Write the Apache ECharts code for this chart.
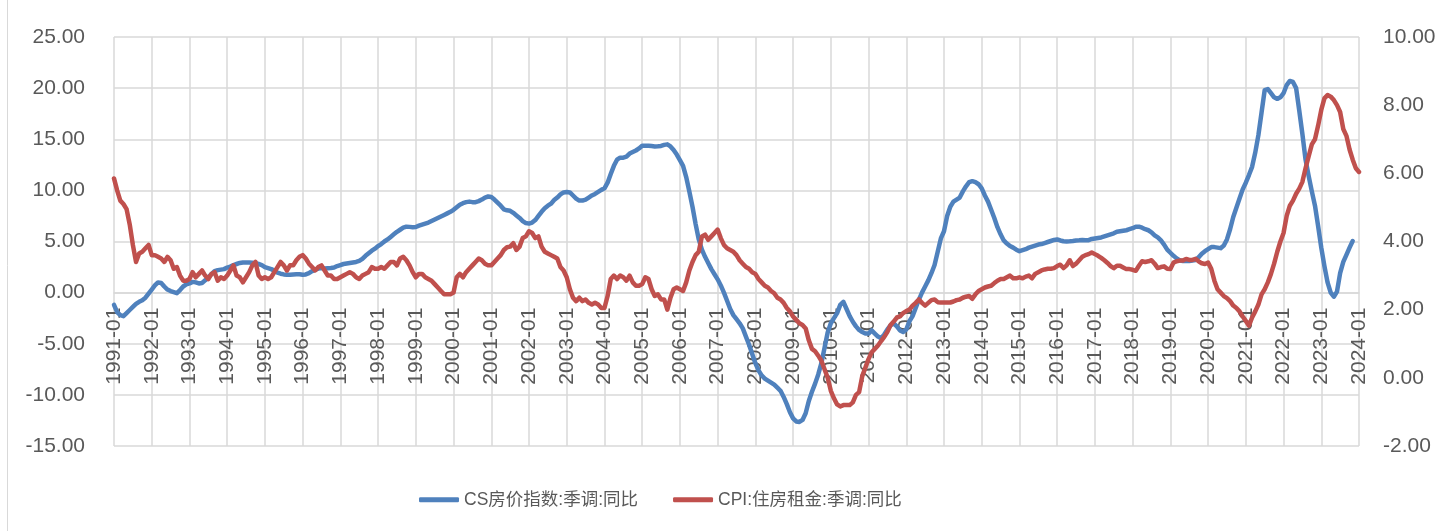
<!DOCTYPE html>
<html><head><meta charset="utf-8">
<script src="https://cdn.jsdelivr.net/npm/echarts@6/dist/echarts.min.js"></script>
<style>html,body{margin:0;padding:0;background:#fff}#c{width:1449px;height:531px}</style>
</head><body><div id="c"></div>
<script>
// Monthly categories 1991-01 .. 2024-01
const startYear = 1991, endYear = 2024;
const months = [];
for (let y = startYear; y <= endYear; y++) {
  for (let m = 1; m <= 12; m++) {
    if (y === endYear && m > 1) break;
    months.push(y + '-' + String(m).padStart(2, '0'));
  }
}

const seriesNames = ['CS房价指数:季调:同比', 'CPI:住房租金:季调:同比'];

// CS house price index YoY (%), left axis
const csYoY = [
  -1.2, -1.9, -2.2, -2.3, -2.0, -1.7, -1.4, -1.1, -0.9, -0.75, -0.5, -0.1,
  0.3, 0.7, 1.0, 0.95, 0.6, 0.3, 0.15, 0.05, -0.05, 0.25, 0.6, 0.8,
  0.9, 1.05, 1.0, 0.9, 0.95, 1.2, 1.5, 1.8, 2.1, 2.2, 2.25, 2.3,
  2.45, 2.55, 2.7, 2.8, 2.9, 2.95, 2.95, 2.95, 2.93, 2.88, 2.8, 2.7,
  2.5, 2.4, 2.3, 2.15, 1.95, 1.85, 1.78, 1.75, 1.75, 1.78, 1.8, 1.8,
  1.75, 1.78, 1.9, 2.1, 2.25, 2.35, 2.4, 2.35, 2.38, 2.4, 2.45, 2.6,
  2.7, 2.8, 2.85, 2.9, 2.95, 3.0, 3.1, 3.3, 3.6, 3.85, 4.1, 4.3,
  4.55, 4.75, 5.0, 5.2, 5.45, 5.7, 5.95, 6.15, 6.35, 6.45, 6.43, 6.4,
  6.42, 6.55, 6.65, 6.75, 6.85, 7.0, 7.15, 7.3, 7.45, 7.6, 7.75, 7.9,
  8.1, 8.35, 8.6, 8.75, 8.85, 8.9, 8.85, 8.85, 8.95, 9.1, 9.3, 9.4,
  9.35, 9.1, 8.8, 8.5, 8.15, 8.05, 8.0, 7.8, 7.55, 7.3, 7.0, 6.8,
  6.75, 6.85, 7.1, 7.5, 7.9, 8.25, 8.5, 8.7, 9.05, 9.3, 9.6, 9.8,
  9.85, 9.8, 9.5, 9.2, 9.0, 9.0, 9.1, 9.3, 9.5, 9.65, 9.85, 10.05,
  10.2, 10.75, 11.6, 12.4, 13.0, 13.2, 13.2, 13.3, 13.6, 13.75, 13.9, 14.1,
  14.36, 14.36, 14.36, 14.33, 14.3, 14.32, 14.35, 14.45, 14.5, 14.3, 13.95, 13.5,
  12.95, 12.4, 11.3, 9.9, 8.4, 6.7, 5.2, 4.2, 3.5, 2.9, 2.3, 1.8,
  1.3, 0.7, 0.0, -0.8, -1.6, -2.2, -2.6, -3.0, -3.5, -4.3, -5.1, -6.0,
  -6.9, -7.6, -8.1, -8.4, -8.6, -8.8, -9.0, -9.3, -9.6, -10.2, -10.9, -11.7,
  -12.3, -12.6, -12.65, -12.45, -11.8, -10.6, -9.7, -8.9, -8.0, -6.9, -5.4, -3.9,
  -3.0, -2.5, -2.0, -1.2, -0.9, -1.6, -2.3, -2.85, -3.3, -3.65, -3.85, -4.0,
  -4.0, -3.7, -4.0, -4.3, -4.45, -4.1, -3.6, -3.2, -3.0, -3.3, -3.7, -3.85,
  -3.6, -2.8, -2.3, -1.5, -0.7, 0.0, 0.6, 1.2, 1.9, 2.7, 4.0, 5.3,
  6.0, 7.5, 8.4, 8.9, 9.1, 9.3, 9.9, 10.4, 10.8, 10.9, 10.8, 10.6,
  10.2, 9.5, 8.9, 8.1, 7.3, 6.4, 5.7, 5.1, 4.8, 4.55, 4.4, 4.2,
  4.05, 4.15, 4.25, 4.4, 4.5, 4.6, 4.7, 4.75, 4.85, 4.95, 5.05, 5.15,
  5.2, 5.1, 5.02, 5.0, 5.02, 5.05, 5.1, 5.12, 5.15, 5.12, 5.13, 5.25,
  5.3, 5.35, 5.4, 5.5, 5.6, 5.7, 5.8, 5.95, 6.0, 6.05, 6.1, 6.2,
  6.3, 6.45, 6.45, 6.35, 6.2, 6.1, 5.9, 5.6, 5.4, 5.1, 4.7, 4.2,
  3.9, 3.6, 3.35, 3.15, 3.1, 3.1, 3.1, 3.15, 3.2, 3.45, 3.8, 4.05,
  4.25, 4.45, 4.45, 4.4, 4.35, 4.6, 5.2, 6.2, 7.4, 8.3, 9.2, 10.1,
  10.75, 11.5, 12.3, 13.7, 15.4, 17.6, 19.8, 19.9, 19.5, 19.1, 18.95, 19.1,
  19.5, 20.3, 20.7, 20.6, 20.0, 17.8, 15.5, 13.0, 11.4, 9.9, 8.5, 6.5,
  4.4, 2.6, 1.0, 0.0, -0.4, 0.1, 1.9, 3.0, 3.7, 4.4, 5.05, null,
  null
];

// CPI rent of primary residence YoY (%), right axis
const rentYoY = [
  5.85, 5.5, 5.2, 5.1, 4.95, 4.5, 3.9, 3.4, 3.65, 3.7, 3.8, 3.9,
  3.6, 3.6, 3.55, 3.5, 3.4, 3.55, 3.45, 3.2, 3.25, 3.0, 2.85, 2.85,
  2.9, 3.1, 2.95, 3.05, 3.15, 3.0, 2.9, 3.05, 3.1, 2.85, 2.95, 2.9,
  3.0, 3.15, 3.3, 3.0, 2.95, 2.8, 2.95, 3.1, 3.3, 3.4, 3.0, 2.9,
  2.95, 2.9, 2.95, 3.1, 3.25, 3.4, 3.3, 3.15, 3.3, 3.3, 3.45, 3.55,
  3.6, 3.5, 3.35, 3.25, 3.15, 3.25, 3.3, 3.15, 3.0, 3.0, 2.9, 2.9,
  2.95, 3.0, 3.05, 3.1, 3.05, 2.95, 2.9, 3.0, 3.05, 3.1, 3.25, 3.2,
  3.2, 3.25, 3.2, 3.3, 3.4, 3.4, 3.3, 3.5, 3.55, 3.45, 3.3, 3.1,
  2.95, 3.05, 3.05, 2.95, 2.9, 2.85, 2.75, 2.65, 2.55, 2.45, 2.45, 2.45,
  2.5, 2.95, 3.05, 2.95, 3.1, 3.2, 3.3, 3.4, 3.5, 3.45, 3.35, 3.3,
  3.3, 3.4, 3.5, 3.6, 3.75, 3.83, 3.85, 3.95, 3.75, 3.85, 4.1, 4.15,
  4.3, 4.25, 4.1, 4.15, 3.85, 3.7, 3.65, 3.6, 3.55, 3.5, 3.25, 3.15,
  2.95, 2.6, 2.35, 2.25, 2.35, 2.25, 2.3, 2.2, 2.15, 2.2, 2.15, 2.05,
  2.05, 2.4, 2.9, 3.0, 2.9, 3.0, 2.95, 2.85, 3.0, 2.8, 2.7, 2.7,
  2.75, 2.95, 2.9, 2.6, 2.4, 2.45, 2.3, 2.3, 2.0, 2.35, 2.6, 2.65,
  2.6, 2.55, 2.8, 3.15, 3.4, 3.6, 3.7, 4.15, 4.2, 4.05, 4.15, 4.25,
  4.35, 4.1, 3.9, 3.8, 3.75, 3.7, 3.6, 3.45, 3.35, 3.25, 3.2, 3.1,
  3.05, 2.9, 2.8, 2.7, 2.65, 2.55, 2.48, 2.35, 2.3, 2.2, 2.05, 1.95,
  1.8, 1.7, 1.6, 1.55, 1.45, 1.1, 0.85, 0.78, 0.65, 0.5, 0.25, 0.0,
  -0.38, -0.6, -0.78, -0.84, -0.8, -0.8, -0.8, -0.72, -0.5, -0.42, 0.05, 0.3,
  0.55, 0.75, 0.85, 0.95, 1.08, 1.2, 1.35, 1.55, 1.65, 1.77, 1.8, 1.9,
  1.96, 2.0, 2.12, 2.2, 2.3, 2.2, 2.12, 2.2, 2.28, 2.3, 2.22, 2.21,
  2.21, 2.21, 2.21, 2.24, 2.28, 2.3, 2.35, 2.38, 2.4, 2.32, 2.45, 2.55,
  2.6, 2.65, 2.68, 2.7, 2.78, 2.85, 2.9, 2.9, 2.95, 3.0, 2.92, 2.92,
  2.95, 2.92, 2.97, 3.0, 2.92, 3.05, 3.1, 3.15, 3.18, 3.2, 3.2, 3.22,
  3.28, 3.32, 3.22, 3.3, 3.45, 3.28, 3.35, 3.45, 3.55, 3.6, 3.63, 3.68,
  3.63, 3.58, 3.52, 3.45, 3.37, 3.28, 3.22, 3.29, 3.29, 3.24, 3.19, 3.19,
  3.17, 3.14, 3.29, 3.42, 3.4, 3.42, 3.45, 3.35, 3.22, 3.25, 3.27, 3.2,
  3.19, 3.38, 3.42, 3.44, 3.44, 3.49, 3.46, 3.46, 3.49, 3.42, 3.36, 3.34,
  3.38, 3.2, 2.85, 2.6, 2.5, 2.4, 2.34, 2.25, 2.12, 2.05, 1.95, 1.8,
  1.67, 1.53, 1.77, 1.95, 2.15, 2.45, 2.6, 2.8, 3.05, 3.35, 3.7, 4.0,
  4.25, 4.75, 5.05, 5.2, 5.4, 5.55, 5.75, 6.15, 6.5, 6.85, 7.0, 7.4,
  7.86, 8.2, 8.3, 8.25, 8.15, 8.0, 7.8, 7.3, 7.1, 6.7, 6.4, 6.15,
  6.04
];

const leftTicks = { min: -15, max: 25, interval: 5 };
const rightTicks = { min: -2, max: 10, interval: 2 };

const FONT = '"Liberation Sans", "Noto Sans CJK SC", sans-serif';
const gridColor = '#d9d9d9';
const labelColor = '#595959';

const W = 1449, H = 531;
const gridLeft = 114, gridRight = 90, gridTop = 37, gridBottom = 85;
const plotH = H - gridTop - gridBottom;
// Category axis crosses the left value axis at 0 (Excel style): shift it up from the bottom edge.
const zeroOffset = -plotH * (0 - leftTicks.min) / (leftTicks.max - leftTicks.min);

const chart = echarts.init(document.getElementById('c'), null, { renderer: 'canvas' });
chart.setOption({
  animation: false,
  backgroundColor: '#ffffff',
  textStyle: { fontFamily: FONT },
  graphic: [{
    type: 'line', silent: true,
    shape: { x1: 7.5, y1: 0, x2: 7.5, y2: H },
    style: { stroke: gridColor, lineWidth: 1 }
  }],
  grid: { left: gridLeft, right: gridRight, top: gridTop, bottom: gridBottom, containLabel: false },
  legend: {
    left: 414, top: 486,
    icon: 'roundRect',
    itemWidth: 40, itemHeight: 5, itemGap: 35,
    textStyle: { fontSize: 17.5, color: labelColor, fontFamily: FONT },
    data: seriesNames
  },
  xAxis: {
    type: 'category',
    data: months,
    boundaryGap: false,
    offset: zeroOffset,
    axisLine: { onZero: false, lineStyle: { color: gridColor, width: 1.5 } },
    axisTick: { show: false },
    axisLabel: { interval: 11, rotate: 90, margin: 15, color: labelColor, fontSize: 21, fontFamily: FONT },
    splitLine: { show: true, interval: 11, lineStyle: { color: gridColor, width: 1.5 } }
  },
  yAxis: [{
    type: 'value', position: 'left',
    min: leftTicks.min, max: leftTicks.max, interval: leftTicks.interval,
    axisLine: { show: false }, axisTick: { show: false },
    axisLabel: { formatter: v => v.toFixed(2), margin: 29, color: labelColor, fontSize: 21, fontFamily: FONT },
    splitLine: { show: true, lineStyle: { color: gridColor, width: 1.5 } }
  }, {
    type: 'value', position: 'right',
    min: rightTicks.min, max: rightTicks.max, interval: rightTicks.interval,
    axisLine: { show: false }, axisTick: { show: false },
    axisLabel: { formatter: v => v.toFixed(2), margin: 24, color: labelColor, fontSize: 21, fontFamily: FONT },
    splitLine: { show: false }
  }],
  series: [{
    name: seriesNames[0], type: 'line', yAxisIndex: 0,
    data: csYoY, symbol: 'none', showSymbol: false, connectNulls: false,
    lineStyle: { color: '#4F81BD', width: 4.5, cap: 'round', join: 'round' },
    itemStyle: { color: '#4F81BD' }
  }, {
    name: seriesNames[1], type: 'line', yAxisIndex: 1,
    data: rentYoY, symbol: 'none', showSymbol: false,
    lineStyle: { color: '#C0504D', width: 4.5, cap: 'round', join: 'round' },
    itemStyle: { color: '#C0504D' }
  }]
});
</script>
</body></html>
